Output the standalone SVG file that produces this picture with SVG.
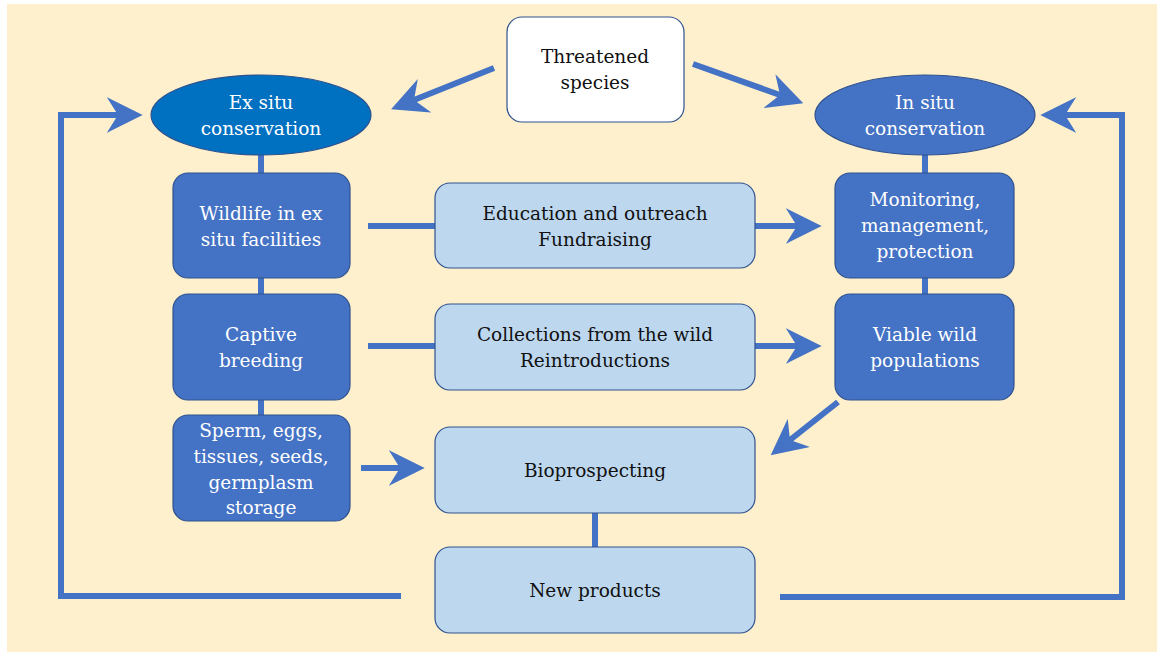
<svg xmlns="http://www.w3.org/2000/svg" width="1157" height="652" viewBox="0 0 1157 652">
<style>
.dark{fill:#4472C4;stroke:#2F528F;stroke-width:1.2}
.light{fill:#BDD7EE;stroke:#2F528F;stroke-width:1.2}
.white{fill:#FFFFFF;stroke:#2F528F;stroke-width:1.2}
.tw{font-family:"DejaVu Serif","Liberation Serif",serif;font-size:18.5px;fill:#FFFFFF;text-anchor:middle}
.tb{font-family:"DejaVu Serif","Liberation Serif",serif;font-size:18.5px;fill:#111111;text-anchor:middle}
.ln{fill:none;stroke:#4472C4;stroke-width:6;stroke-linejoin:miter}
</style>
<defs>
<marker id="ah" markerUnits="userSpaceOnUse" markerWidth="36" markerHeight="36" viewBox="0 0 35 35" refX="11" refY="17.5" orient="auto">
<path d="M0,0 L35,17.5 L0,35 L11,17.5 Z" fill="#4472C4"/>
</marker>
</defs>
<rect x="7" y="4" width="1150" height="648" fill="#FEF0CD"/>
<g id="connectors">
<path class="ln" d="M261,155 L261,173"/>
<path class="ln" d="M261,278 L261,294"/>
<path class="ln" d="M261,400 L261,415"/>
<path class="ln" d="M925,155 L925,173"/>
<path class="ln" d="M925,278 L925,294"/>
<path class="ln" d="M595,513 L595,547"/>
<path class="ln" d="M368,226 L435,226"/>
<path class="ln" d="M368,346 L435,346"/>
<path class="ln" d="M494,68 L414,100" marker-end="url(#ah)"/>
<path class="ln" d="M693,64 L780,95" marker-end="url(#ah)"/>
<path class="ln" d="M755,226 L797,226" marker-end="url(#ah)"/>
<path class="ln" d="M755,346 L797,346" marker-end="url(#ah)"/>
<path class="ln" d="M361,468 L400,468" marker-end="url(#ah)"/>
<path class="ln" d="M838,402 L790,440" marker-end="url(#ah)"/>
<path class="ln" d="M401,596 L61,596 L61,115 L118,115" marker-end="url(#ah)"/>
<path class="ln" d="M780,597 L1122,597 L1122,115 L1065,115" marker-end="url(#ah)"/>
</g>
<g id="threatened">
<rect class="white" x="507" y="17" width="177" height="105" rx="15"/>
<text class="tb" x="595" y="63">Threatened</text>
<text class="tb" x="595" y="89">species</text>
</g>
<g id="exsitu">
<ellipse cx="261" cy="115" rx="110" ry="40" fill="#0070C0" stroke="#2F528F" stroke-width="1.2"/>
<text class="tw" x="261" y="109">Ex situ</text>
<text class="tw" x="261" y="135">conservation</text>
</g>
<g id="insitu">
<ellipse cx="925" cy="115" rx="110" ry="40" class="dark"/>
<text class="tw" x="925" y="109">In situ</text>
<text class="tw" x="925" y="135">conservation</text>
</g>
<g id="wildlife">
<rect class="dark" x="173" y="173" width="177" height="105" rx="15"/>
<text class="tw" x="261" y="220">Wildlife in ex</text>
<text class="tw" x="261" y="246">situ facilities</text>
</g>
<g id="captive">
<rect class="dark" x="173" y="294" width="177" height="106" rx="15"/>
<text class="tw" x="261" y="341">Captive</text>
<text class="tw" x="261" y="367">breeding</text>
</g>
<g id="sperm">
<rect class="dark" x="173" y="415" width="177" height="106" rx="15"/>
<text class="tw" x="261" y="437">Sperm, eggs,</text>
<text class="tw" x="261" y="463">tissues, seeds,</text>
<text class="tw" x="261" y="489">germplasm</text>
<text class="tw" x="261" y="514">storage</text>
</g>
<g id="education">
<rect class="light" x="435" y="183" width="320" height="85" rx="15"/>
<text class="tb" x="595" y="220">Education and outreach</text>
<text class="tb" x="595" y="246">Fundraising</text>
</g>
<g id="collections">
<rect class="light" x="435" y="304" width="320" height="86" rx="15"/>
<text class="tb" x="595" y="341">Collections from the wild</text>
<text class="tb" x="595" y="367">Reintroductions</text>
</g>
<g id="bioprospecting">
<rect class="light" x="435" y="427" width="320" height="86" rx="15"/>
<text class="tb" x="595" y="477">Bioprospecting</text>
</g>
<g id="newproducts">
<rect class="light" x="435" y="547" width="320" height="86" rx="15"/>
<text class="tb" x="595" y="597">New products</text>
</g>
<g id="monitoring">
<rect class="dark" x="835" y="173" width="179" height="105" rx="15"/>
<text class="tw" x="925" y="206">Monitoring,</text>
<text class="tw" x="925" y="232">management,</text>
<text class="tw" x="925" y="258">protection</text>
</g>
<g id="viable">
<rect class="dark" x="835" y="294" width="179" height="106" rx="15"/>
<text class="tw" x="925" y="341">Viable wild</text>
<text class="tw" x="925" y="367">populations</text>
</g>
</svg>
